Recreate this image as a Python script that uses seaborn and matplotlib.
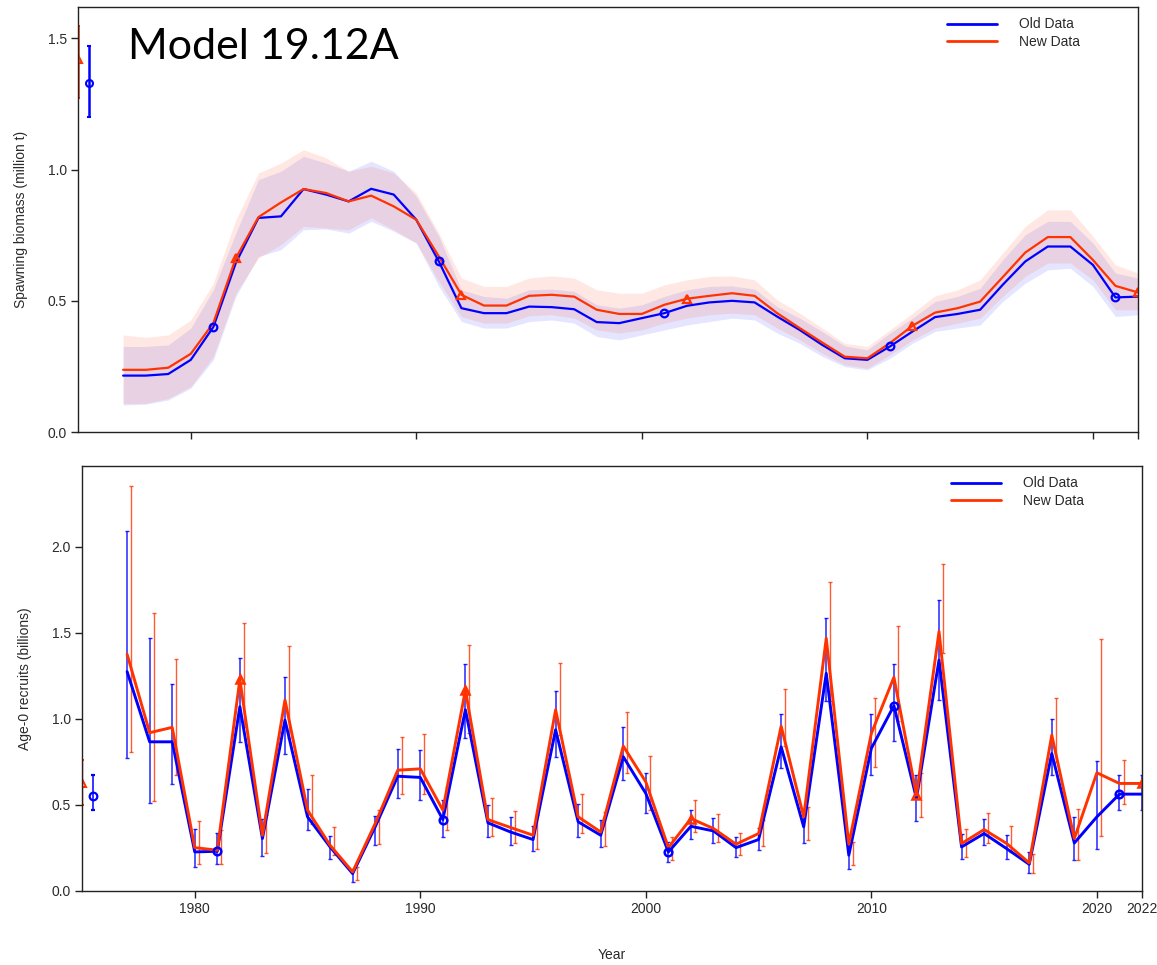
import numpy as np
import pandas as pd
import matplotlib
matplotlib.use("Agg")
import matplotlib.pyplot as plt
from matplotlib.lines import Line2D
import seaborn as sns

# ---------------- data ----------------
years = list(range(1977, 2023))

ssb_old = [0.215, 0.215, 0.221, 0.275, 0.400, 0.645, 0.816, 0.822, 0.926, 0.905,
           0.879, 0.927, 0.905, 0.809, 0.650, 0.472, 0.453, 0.453, 0.478, 0.476,
           0.468, 0.419, 0.415, 0.434, 0.453, 0.481, 0.494, 0.500, 0.494, 0.440,
           0.389, 0.332, 0.281, 0.275, 0.326, 0.383, 0.438, 0.450, 0.466, 0.561,
           0.650, 0.707, 0.707, 0.637, 0.513, 0.516]
ssb_new = [0.237, 0.237, 0.245, 0.298, 0.415, 0.663, 0.819, 0.875, 0.926, 0.911,
           0.879, 0.901, 0.860, 0.809, 0.669, 0.523, 0.482, 0.482, 0.519, 0.523,
           0.516, 0.466, 0.450, 0.450, 0.485, 0.508, 0.519, 0.529, 0.519, 0.453,
           0.396, 0.341, 0.287, 0.281, 0.339, 0.405, 0.455, 0.472, 0.497, 0.590,
           0.684, 0.743, 0.743, 0.656, 0.557, 0.532]
ssb_old_lo = [0.103, 0.106, 0.122, 0.167, 0.275, 0.517, 0.669, 0.695, 0.771, 0.774,
              0.758, 0.803, 0.765, 0.720, 0.555, 0.421, 0.396, 0.396, 0.421, 0.427,
              0.415, 0.364, 0.351, 0.370, 0.389, 0.408, 0.421, 0.434, 0.427, 0.377,
              0.338, 0.288, 0.249, 0.237, 0.281, 0.338, 0.383, 0.396, 0.408, 0.497,
              0.567, 0.618, 0.624, 0.555, 0.440, 0.447]
ssb_old_hi = [0.326, 0.326, 0.332, 0.396, 0.542, 0.758, 0.962, 0.994, 1.051, 1.025,
              0.994, 1.032, 0.994, 0.898, 0.746, 0.542, 0.517, 0.510, 0.542, 0.545,
              0.536, 0.485, 0.472, 0.485, 0.517, 0.542, 0.555, 0.557, 0.545, 0.478,
              0.434, 0.383, 0.328, 0.313, 0.377, 0.434, 0.497, 0.517, 0.548, 0.656,
              0.752, 0.803, 0.803, 0.720, 0.606, 0.587]
ssb_new_lo = [0.109, 0.109, 0.128, 0.173, 0.288, 0.529, 0.663, 0.714, 0.784, 0.777,
              0.771, 0.816, 0.771, 0.720, 0.574, 0.440, 0.415, 0.415, 0.443, 0.447,
              0.434, 0.389, 0.377, 0.389, 0.415, 0.434, 0.447, 0.453, 0.447, 0.396,
              0.351, 0.300, 0.256, 0.243, 0.294, 0.351, 0.396, 0.415, 0.434, 0.517,
              0.593, 0.644, 0.644, 0.580, 0.466, 0.466]
ssb_new_hi = [0.370, 0.361, 0.370, 0.427, 0.567, 0.809, 0.987, 1.025, 1.076, 1.045,
              0.994, 1.013, 0.987, 0.911, 0.758, 0.587, 0.555, 0.555, 0.587, 0.595,
              0.587, 0.542, 0.529, 0.529, 0.561, 0.580, 0.593, 0.595, 0.580, 0.504,
              0.453, 0.396, 0.338, 0.326, 0.389, 0.453, 0.519, 0.542, 0.580, 0.682,
              0.784, 0.847, 0.847, 0.746, 0.637, 0.606]

# virgin (equilibrium) points shown at the left edge
b0_old, b0_old_lo, b0_old_hi = 1.33, 1.20, 1.47
b0_new, b0_new_lo, b0_new_hi = 1.42, 1.275, 1.546
r0_old, r0_old_lo, r0_old_hi = 0.551, 0.47, 0.677
r0_new, r0_new_lo, r0_new_hi = 0.625, 0.50, 0.761

rec_old = [1.275, 0.867, 0.867, 0.227, 0.231, 1.071, 0.305, 0.993, 0.431, 0.256,
           0.101, 0.373, 0.667, 0.660, 0.415, 1.053, 0.396, 0.343, 0.299, 0.937,
           0.402, 0.324, 0.780, 0.567, 0.227, 0.376, 0.349, 0.252, 0.299, 0.838,
           0.373, 1.265, 0.208, 0.829, 1.077, 0.537, 1.342, 0.256, 0.334, 0.246,
           0.155, 0.799, 0.279, 0.431, 0.563, 0.563]
rec_old_lo = [0.774, 0.512, 0.619, 0.140, 0.155, 0.867, 0.202, 0.799, 0.353, 0.184,
              0.052, 0.266, 0.543, 0.528, 0.314, 0.887, 0.314, 0.266, 0.231, 0.776,
              0.314, 0.256, 0.644, 0.454, 0.169, 0.305, 0.279, 0.198, 0.237, 0.712,
              0.279, 1.106, 0.130, 0.673, 0.871, 0.406, 1.108, 0.188, 0.266, 0.188,
              0.105, 0.673, 0.179, 0.246, 0.470, 0.470]
rec_old_hi = [2.095, 1.473, 1.203, 0.359, 0.338, 1.352, 0.421, 1.246, 0.590, 0.322,
              0.130, 0.435, 0.825, 0.819, 0.528, 1.319, 0.499, 0.431, 0.376, 1.164,
              0.503, 0.411, 0.951, 0.683, 0.285, 0.470, 0.425, 0.314, 0.367, 1.029,
              0.456, 1.585, 0.276, 1.029, 1.319, 0.677, 1.692, 0.330, 0.421, 0.324,
              0.227, 0.997, 0.431, 0.755, 0.677, 0.677]
rec_new = [1.376, 0.920, 0.951, 0.252, 0.237, 1.230, 0.324, 1.110, 0.470, 0.266,
           0.111, 0.392, 0.702, 0.710, 0.470, 1.168, 0.415, 0.369, 0.324, 1.053,
           0.431, 0.343, 0.842, 0.634, 0.252, 0.421, 0.363, 0.272, 0.334, 0.958,
           0.431, 1.469, 0.272, 0.916, 1.242, 0.557, 1.508, 0.276, 0.357, 0.276,
           0.163, 0.906, 0.305, 0.687, 0.625, 0.625]
rec_new_lo = [0.805, 0.522, 0.673, 0.159, 0.155, 0.955, 0.223, 0.887, 0.392, 0.208,
              0.062, 0.276, 0.561, 0.563, 0.353, 0.916, 0.320, 0.279, 0.246, 0.906,
              0.338, 0.260, 0.683, 0.470, 0.182, 0.343, 0.285, 0.208, 0.260, 0.842,
              0.295, 1.106, 0.149, 0.722, 0.988, 0.431, 1.381, 0.198, 0.279, 0.227,
              0.105, 0.751, 0.182, 0.318, 0.503, 0.503]
rec_new_hi = [2.355, 1.614, 1.347, 0.405, 0.353, 1.560, 0.440, 1.424, 0.677, 0.373,
              0.140, 0.470, 0.893, 0.910, 0.605, 1.430, 0.541, 0.466, 0.440, 1.327,
              0.561, 0.460, 1.042, 0.784, 0.314, 0.528, 0.450, 0.338, 0.411, 1.172,
              0.489, 1.795, 0.285, 1.120, 1.543, 0.683, 1.899, 0.363, 0.456, 0.376,
              0.217, 1.120, 0.479, 1.465, 0.761, 0.761]

old_marker_years = [1981, 1991, 2001, 2011, 2021]
new_marker_years = [1982, 1992, 2002, 2012, 2022]
xtick_years = [1980, 1990, 2000, 2010, 2020, 2022]
labels = ["Old Data", "New Data"]

# ---------------- style ----------------
BLUE = "#0000FF"
RED = "#FF3300"
sns.set_theme(style="white")
plt.rcParams["font.family"] = ["Liberation Sans", "DejaVu Sans"]
TXT = "#2a2a2a"

fig = plt.figure(figsize=(11.57, 9.65), dpi=100)
W, H = 1157, 965
ax1 = fig.add_axes([78 / W, 1 - 432 / H, 1060 / W, 425 / H])
ax2 = fig.add_axes([82 / W, 1 - 891 / H, 1060 / W, 425 / H])

df_ssb = pd.DataFrame({
    "Year": years * 2,
    "value": ssb_old + ssb_new,
    "model": [labels[0]] * len(years) + [labels[1]] * len(years),
})
df_rec = pd.DataFrame({
    "Year": years * 2,
    "value": rec_old + rec_new,
    "model": [labels[0]] * len(years) + [labels[1]] * len(years),
})
pal = {labels[0]: BLUE, labels[1]: RED}
yrs = np.array(years)
red_off = 0.18

# ---- top panel: spawning biomass ----
ax1.fill_between(yrs, ssb_old_lo, ssb_old_hi, color=BLUE, alpha=0.10, lw=0)
ax1.fill_between(yrs, ssb_new_lo, ssb_new_hi, color=RED, alpha=0.11, lw=0)
sns.lineplot(data=df_ssb, x="Year", y="value", hue="model", palette=pal,
             linewidth=1.6, legend=False, ax=ax1, sort=True)
for yrs_m, vals, col, mk in [(old_marker_years, ssb_old, BLUE, "o"),
                             (new_marker_years, ssb_new, RED, "^")]:
    sel = [years.index(y) for y in yrs_m]
    ax1.plot([years[i] for i in sel], [vals[i] for i in sel], mk, ms=5.5,
             mfc="none", mec=col, mew=1.6)
ax1.errorbar([1975.5], [b0_old], yerr=[[b0_old - b0_old_lo], [b0_old_hi - b0_old]],
             fmt="o", ms=5, mfc="none", mec=BLUE, mew=1.5, ecolor=BLUE,
             elinewidth=1.8, capsize=1.5)
ax1.errorbar([1975.0], [b0_new], yerr=[[b0_new - b0_new_lo], [b0_new_hi - b0_new]],
             fmt="^", ms=6, mfc="none", mec=RED, mew=1.5, ecolor=RED,
             elinewidth=1.8, capsize=1.5, zorder=1)

# ---- bottom panel: recruits ----
ax2.errorbar(yrs, rec_old,
             yerr=[np.array(rec_old) - np.array(rec_old_lo),
                   np.array(rec_old_hi) - np.array(rec_old)],
             fmt="none", ecolor=BLUE, elinewidth=1.1, capsize=1.5, alpha=0.85)
ax2.errorbar(yrs + red_off, rec_new,
             yerr=[np.array(rec_new) - np.array(rec_new_lo),
                   np.array(rec_new_hi) - np.array(rec_new)],
             fmt="none", ecolor=RED, elinewidth=1.0, capsize=1.5, alpha=0.8)
sns.lineplot(data=df_rec, x="Year", y="value", hue="model", palette=pal,
             linewidth=2.1, legend=False, ax=ax2, sort=True)
for yrs_m, vals, col, mk in [(old_marker_years, rec_old, BLUE, "o"),
                             (new_marker_years, rec_new, RED, "^")]:
    sel = [years.index(y) for y in yrs_m]
    ax2.plot([years[i] for i in sel], [vals[i] for i in sel], mk, ms=5.5,
             mfc="none", mec=col, mew=1.8)
ax2.errorbar([1975.5], [r0_old], yerr=[[r0_old - r0_old_lo], [r0_old_hi - r0_old]],
             fmt="o", ms=5.5, mfc="none", mec=BLUE, mew=1.6, ecolor=BLUE,
             elinewidth=1.1, capsize=1.5)
ax2.errorbar([1975.0], [r0_new], yerr=[[r0_new - r0_new_lo], [r0_new_hi - r0_new]],
             fmt="^", ms=6, mfc="none", mec=RED, mew=1.5, ecolor=RED,
             elinewidth=1.0, capsize=1.5, zorder=1)

# ---- axes formatting ----
for ax, ylim, yt in [(ax1, 1.62, [0.0, 0.5, 1.0, 1.5]),
                     (ax2, 2.47, [0.0, 0.5, 1.0, 1.5, 2.0])]:
    ax.set_xlim(1975, 2022)
    ax.set_ylim(0, ylim)
    ax.set_yticks(yt)
    ax.set_yticklabels([f"{v:.1f}" for v in yt])
    ax.set_xticks(xtick_years)
    ax.tick_params(axis="both", direction="out", length=5, width=1,
                   color="#222222", labelsize=10, labelcolor=TXT, pad=3,
                   bottom=True, left=True)
    for s in ax.spines.values():
        s.set_color("#222222")
        s.set_linewidth(1.0)
        s.set_zorder(3)
    ax.grid(False)
    handles = [Line2D([0], [0], color=BLUE, lw=2), Line2D([0], [0], color=RED, lw=2)]
    ax.legend(handles, labels, loc="upper right", bbox_to_anchor=(0.953, 0.995),
              frameon=False, fontsize=10, handlelength=3.6, handletextpad=1.6,
              labelspacing=0.25, borderaxespad=0.2, labelcolor=TXT)

ax1.set_xticklabels([])
ax1.set_xlabel("")
ax2.set_xticklabels([str(y) for y in xtick_years])
ax1.set_ylabel("Spawning biomass (million t)", fontsize=10, color=TXT, labelpad=14)
ax2.set_ylabel("Age-0 recruits (billions)", fontsize=10, color=TXT, labelpad=14)
ax2.set_xlabel("Year", fontsize=10, color=TXT, labelpad=23)

fig.text(128 / W, 1 - 47 / H, "Model 19.12A", fontsize=31, color="black",
         family=["Lato", "DejaVu Sans"], va="center", ha="left")

fig.savefig("out.png", dpi=100)
